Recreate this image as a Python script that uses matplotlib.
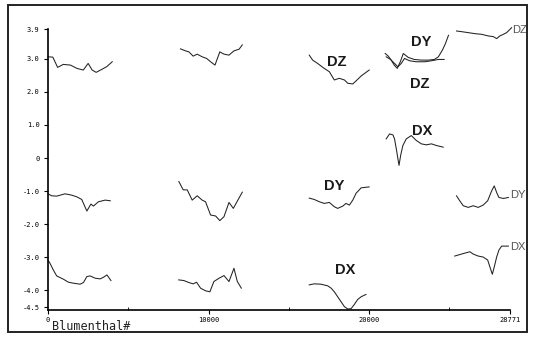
import matplotlib
matplotlib.use("Agg")
import matplotlib.pyplot as plt
from matplotlib.patches import Rectangle

# y tick values and x tick labels
y_ticks = [3.9, 3.0, 2.0, 1.0, 0, -1.0, -2.0, -3.0, -4.0, -4.5]
y_tick_labels = ["3.9", "3.0", "2.0", "1.0", "0", "-1.0", "-2.0", "-3.0", "-4.0", "-4.5"]
x_ticks = [0, 10000, 20000, 28771]
x_tick_labels = ["0", "10000", "20000", "28771"]

# segment 1 (0 - 4000)
g1_dz_x = [0, 300, 600, 950, 1400, 1800, 2200, 2500, 2750, 3000, 3350, 3650, 4000]
g1_dz_y = [3.06, 3.05, 2.74, 2.83, 2.81, 2.71, 2.66, 2.86, 2.66, 2.59, 2.68, 2.76, 2.91]
g1_dy_x = [0, 230, 540, 1060, 1480, 1790, 2100, 2420, 2670, 2830, 3140, 3560, 3880]
g1_dy_y = [-1.08, -1.14, -1.15, -1.08, -1.12, -1.17, -1.25, -1.60, -1.39, -1.45, -1.32, -1.27, -1.29]
g1_dx_x = [0, 125, 330, 540, 960, 1270, 1580, 2000, 2210, 2420, 2625, 2940, 3250, 3460, 3670, 3920]
g1_dx_y = [-3.08, -3.18, -3.38, -3.56, -3.66, -3.75, -3.78, -3.81, -3.76, -3.58, -3.56, -3.63,
           -3.65, -3.60, -3.53, -3.70]

# segment 2 (8000 - 12200)
g2_dz_x = [8250, 8560, 8770, 9040, 9290, 9600, 9880, 10125, 10400, 10700, 10960, 11270, 11580, 11900, 12100]
g2_dz_y = [3.30, 3.24, 3.21, 3.08, 3.14, 3.06, 3.01, 2.91, 2.81, 3.21, 3.14, 3.11, 3.24, 3.29, 3.42]
g2_dy_x = [8150, 8420, 8670, 8980, 9290, 9600, 9810, 10125, 10440, 10700, 10960, 11270, 11540, 11790, 12100]
g2_dy_y = [-0.71, -0.96, -0.96, -1.27, -1.14, -1.27, -1.32, -1.72, -1.75, -1.89, -1.77, -1.34,
           -1.52, -1.30, -1.03]
g2_dx_x = [8140, 8460, 8770, 9040, 9250, 9500, 9810, 10080, 10330, 10650, 10960, 11270, 11580, 11790, 12040]
g2_dx_y = [-3.68, -3.70, -3.76, -3.80, -3.75, -3.93, -4.01, -4.04, -3.73, -3.63, -3.55, -3.73,
           -3.33, -3.73, -3.93]

# segment 3 (16300 - 20000)
g3_dz_x = [16270, 16480, 16790, 17200, 17520, 17830, 18140, 18460, 18670, 18980, 19290, 19500, 20000]
g3_dz_y = [3.11, 2.96, 2.86, 2.71, 2.61, 2.36, 2.41, 2.36, 2.26, 2.24, 2.38, 2.48, 2.66]
g3_dy_x = [16270, 16580, 16900, 17200, 17520, 17830, 18040, 18360, 18560, 18770, 18980, 19190, 19500, 20000]
g3_dy_y = [-1.21, -1.25, -1.32, -1.37, -1.34, -1.47, -1.52, -1.45, -1.37, -1.42, -1.27, -1.06,
           -0.90, -0.87]
g3_dx_x = [16270, 16580, 17000, 17420, 17630, 17830, 18040, 18250, 18460, 18670, 18875, 19080,
           19290, 19500, 19800]
g3_dx_y = [-3.83, -3.80, -3.81, -3.86, -3.93, -4.04, -4.19, -4.34, -4.49, -4.56, -4.55, -4.42,
           -4.27, -4.19, -4.12]

# segment 4 (21000 - 25000)
g4_dy_x = [21000, 21190, 21375, 21560, 21750, 21940, 22125, 22440, 22810, 23250, 23690, 24060,
           24310, 24560, 24750, 24940]
g4_dy_y = [3.16, 3.08, 2.96, 2.81, 2.71, 2.91, 3.16, 3.04, 2.98, 2.96, 2.96, 2.98, 3.06, 3.26,
           3.46, 3.71]
g4_dz_x = [21060, 21330, 21580, 21790, 22000, 22200, 22520, 22940, 23460, 23880, 24300, 24670]
g4_dz_y = [3.06, 2.98, 2.86, 2.76, 2.86, 3.01, 2.94, 2.91, 2.91, 2.94, 2.98, 2.98]
g4_dx_x = [21060, 21270, 21480, 21580, 21690, 21790, 21860, 21960, 22100, 22310, 22625, 22940,
           23250, 23560, 23880, 24190, 24610]
g4_dx_y = [0.58, 0.73, 0.70, 0.58, 0.28, -0.02, -0.22, 0.08, 0.38, 0.58, 0.68, 0.53, 0.43, 0.40,
           0.43, 0.38, 0.33]

# segment 5 (25500 - 28771)
g5_dz_x = [25440, 25750, 26170, 26580, 27000, 27420, 27730, 27940, 28140, 28360, 28560, 28770, 28870]
g5_dz_y = [3.84, 3.82, 3.79, 3.76, 3.74, 3.69, 3.67, 3.61, 3.69, 3.74, 3.79, 3.89, 3.94]
g5_dy_x = [25440, 25640, 25860, 26170, 26480, 26790, 27100, 27380, 27630, 27790, 27940, 28080,
           28360, 28670]
g5_dy_y = [-1.14, -1.29, -1.44, -1.49, -1.44, -1.49, -1.42, -1.29, -0.99, -0.84, -1.04, -1.19,
           -1.22, -1.19]
g5_dx_x = [25330, 25750, 26270, 26480, 26790, 27100, 27380, 27520, 27670, 27790, 27940, 28080,
           28250, 28670]
g5_dx_y = [-2.96, -2.90, -2.83, -2.90, -2.96, -2.99, -3.08, -3.29, -3.51, -3.29, -2.99, -2.78,
           -2.66, -2.66]

segments = [
    (g1_dz_x, g1_dz_y), (g1_dy_x, g1_dy_y), (g1_dx_x, g1_dx_y),
    (g2_dz_x, g2_dz_y), (g2_dy_x, g2_dy_y), (g2_dx_x, g2_dx_y),
    (g3_dz_x, g3_dz_y), (g3_dy_x, g3_dy_y), (g3_dx_x, g3_dx_y),
    (g4_dy_x, g4_dy_y), (g4_dz_x, g4_dz_y), (g4_dx_x, g4_dx_y),
    (g5_dz_x, g5_dz_y), (g5_dy_x, g5_dy_y), (g5_dx_x, g5_dx_y),
]

# big labels inside the plot
big_labels = [("DZ", 18000, 2.90), ("DY", 17810, -0.84), ("DX", 18500, -3.38),
              ("DY", 23250, 3.51), ("DZ", 23125, 2.24), ("DX", 23310, 0.82)]
# small labels at the right end
end_labels = [("DZ", 28900, 3.87), ("DY", 28780, -1.11), ("DX", 28780, -2.69)]

W, H = 534, 344
fig = plt.figure(figsize=(W / 100, H / 100), dpi=100)
fig.patch.set_facecolor("white")

# scanned outer frame
fig.patches.append(Rectangle((8 / W, 1 - 332 / H), (527 - 8) / W, (332 - 5) / H,
                             transform=fig.transFigure, fill=False, lw=1.4, ec="#222222"))

ax = fig.add_axes([48 / W, 1 - 310 / H, (510 - 48) / W, (310 - 29) / H])
for x, y in segments:
    ax.plot(x, y, color="#222222", lw=0.75, clip_on=False)

for txt, x, y in big_labels:
    ax.text(x, y, txt, ha="center", va="center", fontsize=10.5, fontweight="bold",
            family="Liberation Sans", color="#1a1a1a")
for txt, x, y in end_labels:
    ax.text(x, y, txt, ha="left", va="center", fontsize=8,
            family="Liberation Sans", color="#555555", clip_on=False)

ax.set_xlim(0, 28771)
ax.set_ylim(-4.59, 3.9)
ax.spines["top"].set_visible(False)
ax.spines["right"].set_visible(False)
ax.spines["left"].set_linewidth(1.2)
ax.spines["bottom"].set_linewidth(1.2)

ax.set_yticks(y_ticks)
ax.set_yticklabels(y_tick_labels, family="DejaVu Sans Mono", fontsize=5)
ax.set_xticks(x_ticks)
ax.set_xticklabels(x_tick_labels, family="DejaVu Sans Mono", fontsize=5)
ax.set_xticks([5000, 15000, 25000], minor=True)
ax.tick_params(axis="y", direction="out", length=3, width=0.8, pad=3)
ax.tick_params(axis="x", which="major", direction="out", length=3, width=0.8, pad=2)
ax.tick_params(axis="x", which="minor", direction="in", length=2, width=0.6)

fig.text(52 / W, 1 - 326 / H, "Blumenthal#", family="DejaVu Sans Mono", fontsize=8.5,
         ha="left", va="center", color="#222222")

fig.savefig("out.png", dpi=100)
